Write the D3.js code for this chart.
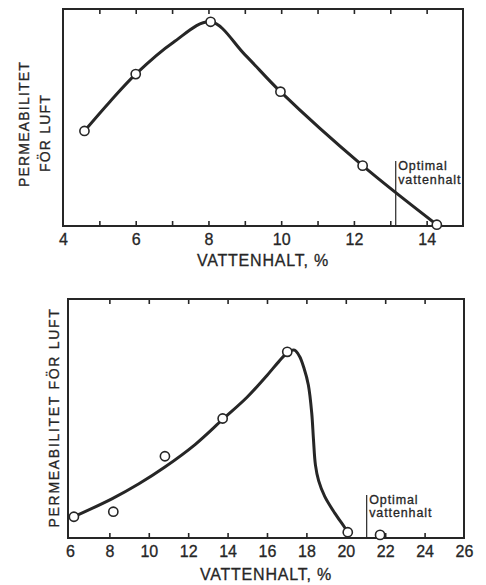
<!DOCTYPE html>
<html>
<head>
<meta charset="utf-8">
<script src="https://cdn.jsdelivr.net/npm/d3@7"></script>
<style>
  body { margin: 0; background: #fff; }
  text { font-family: "Liberation Sans", Arial, Helvetica, sans-serif; fill: #262626; stroke: #262626; stroke-width: 0.3px; }
</style>
</head>
<body>
<svg id="chart" width="486" height="585"></svg>
<script>
// Upper panel: measured permeability vs. water content
const upperWater = [4.59, 6.0, 8.06, 9.98, 12.24, 14.28];
const upperPerm  = [43.8, 70.0, 94.1, 61.9, 27.8, 0.6];
// hand-drawn line through the upper points
const upperCurveWater = [4.59, 5.29, 6.0, 7.03, 8.06, 9.0, 9.98, 12.24, 14.28];
const upperCurvePerm  = [43.8, 57.3, 70.0, 84.6, 94.1, 79.0, 61.9, 27.8, 0.6];
const upperLabelTicks = [4, 6, 8, 10, 12, 14];
const upperMinorTicks = [5, 6, 7, 8, 9, 10, 11, 12, 13, 14];
const upperOptimal = 13.15;

// Lower panel: measured points and the fitted curve drawn among them
const lowerWater = [6.2, 8.2, 10.82, 13.75, 17.03, 20.1, 21.74];
const lowerPerm  = [8.9, 11.0, 34.2, 50.0, 77.9, 2.4, 1.3];
const lowerCurveWater = [6.2, 8.15, 9.5, 10.8, 12.35, 13.75, 15.0, 16.0, 16.6, 17.1, 17.4, 17.65, 17.88, 18.1, 18.27, 18.36, 18.46, 18.62, 18.93, 19.44, 19.92, 20.1];
const lowerCurvePerm  = [8.9, 16.5, 22.7, 29.6, 39.1, 49.6, 59.0, 68.0, 73.8, 78.0, 78.6, 76.0, 71.0, 64.0, 52.4, 41.2, 30.5, 24.0, 17.4, 10.4, 4.7, 2.4];
const lowerLabelTicks = [6, 8, 10, 12, 14, 16, 18, 20, 22, 24, 26];
const lowerMinorTicks = [8, 10, 12, 14, 16, 18, 20, 22, 24];
const lowerOptimal = 21.06;

const xTitle = "VATTENHALT, %";
const yTitleA = "PERMEABILITET";
const yTitleB = "FÖR  LUFT";
const yTitleFull = "PERMEABILITET  FÖR  LUFT";
const optimalLines = ["Optimal", "vattenhalt"];

const ink = "#262626";
const svg = d3.select("#chart");

function panel(cfg) {
  const g = svg.append("g");
  const x = d3.scaleLinear().domain(cfg.xDomain).range([cfg.left, cfg.right]);
  const y = d3.scaleLinear().domain([0, 100]).range([cfg.bottom, cfg.top]);

  // inward ticks on bottom and top edges
  g.append("g").attr("transform", `translate(0,${cfg.bottom})`)
    .call(d3.axisBottom(x).tickValues(cfg.minor).tickSize(-5).tickFormat(""))
    .call(a => a.select(".domain").remove())
    .selectAll("line").attr("stroke", ink).attr("stroke-width", 1.6);
  g.append("g").attr("transform", `translate(0,${cfg.top})`)
    .call(d3.axisTop(x).tickValues(cfg.minor).tickSize(-5).tickFormat(""))
    .call(a => a.select(".domain").remove())
    .selectAll("line").attr("stroke", ink).attr("stroke-width", 1.6);

  // tick labels
  const lab = g.append("g").attr("transform", `translate(0,${cfg.bottom})`)
    .call(d3.axisBottom(x).tickValues(cfg.labels).tickSize(0).tickPadding(8).tickFormat(d3.format("d")));
  lab.select(".domain").remove();
  lab.selectAll("text").attr("font-size", 16).attr("fill", ink)
    .attr("font-family", "'Liberation Sans', Arial, sans-serif");

  // frame
  g.append("rect")
    .attr("x", cfg.left).attr("y", cfg.top)
    .attr("width", cfg.right - cfg.left).attr("height", cfg.bottom - cfg.top)
    .attr("fill", "none").attr("stroke", ink).attr("stroke-width", 2);

  // x title
  g.append("text")
    .attr("x", (cfg.left + cfg.right) / 2).attr("y", cfg.bottom + cfg.titleGap)
    .attr("text-anchor", "middle").attr("font-size", 16)
    .attr("letter-spacing", 0.8)
    .text(xTitle);

  // optimal water content marker
  const ox = x(cfg.optimal);
  g.append("line")
    .attr("x1", ox).attr("x2", ox)
    .attr("y1", cfg.optTop).attr("y2", cfg.bottom)
    .attr("stroke", ink).attr("stroke-width", 1.2);
  optimalLines.forEach((t, i) => {
    g.append("text")
      .attr("x", ox + 2.5).attr("y", cfg.optTop + 8.5 + i * cfg.optGap)
      .attr("font-size", 12.5).attr("letter-spacing", 0.9)
      .text(t);
  });

  // curve
  const line = d3.line().x(d => x(d[0])).y(d => y(d[1])).curve(d3.curveCatmullRom.alpha(0.5));
  g.append("path")
    .datum(cfg.curve)
    .attr("d", line)
    .attr("fill", "none").attr("stroke", ink)
    .attr("stroke-width", 3).attr("stroke-linejoin", "round").attr("stroke-linecap", "round");

  // points
  g.selectAll("circle.pt").data(cfg.points).join("circle")
    .attr("class", "pt")
    .attr("cx", d => x(d[0])).attr("cy", d => y(d[1]))
    .attr("r", 4.6)
    .attr("fill", "#fff").attr("stroke", ink).attr("stroke-width", 1.6);

  return g;
}

const upperPoints = upperWater.map((v, i) => [v, upperPerm[i]]);
const upperCurve = upperCurveWater.map((v, i) => [v, upperCurvePerm[i]]);
panel({
  xDomain: [4, 15], left: 63, right: 463, top: 9, bottom: 226,
  minor: upperMinorTicks, labels: upperLabelTicks,
  optimal: upperOptimal, optTop: 161, optGap: 14,
  titleGap: 40,
  curve: upperCurve, points: upperPoints
});

const lowerPoints = lowerWater.map((v, i) => [v, lowerPerm[i]]);
const lowerCurve = lowerCurveWater.map((v, i) => [v, lowerCurvePerm[i]]);
panel({
  xDomain: [5.9, 26], left: 68, right: 464, top: 299, bottom: 538,
  minor: lowerMinorTicks, labels: lowerLabelTicks,
  optimal: lowerOptimal, optTop: 495, optGap: 13,
  titleGap: 42,
  curve: lowerCurve, points: lowerPoints
});

// y-axis titles
function yTitle(txt, bx, cy, spacing) {
  svg.append("text")
    .attr("transform", `translate(${bx},${cy}) rotate(-90)`)
    .attr("text-anchor", "middle").attr("font-size", 14)
    .attr("letter-spacing", spacing)
    .text(txt);
}
yTitle(yTitleA, 28.5, 124, 1.2);
yTitle(yTitleB, 50, 133, 1.2);
yTitle(yTitleFull, 58.5, 417.5, 1.7);
</script>
</body>
</html>
